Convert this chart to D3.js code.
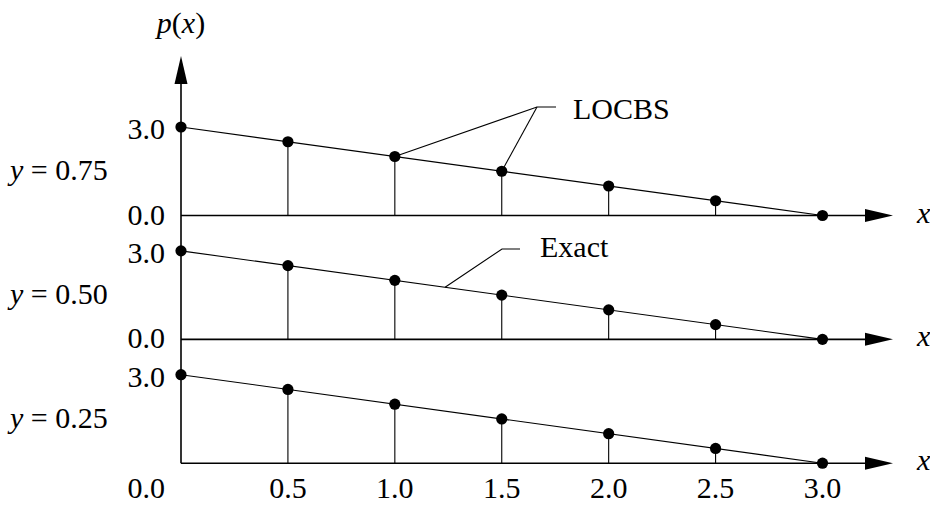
<!DOCTYPE html>
<html>
<head>
<meta charset="utf-8">
<script src="https://cdn.jsdelivr.net/npm/d3@7"></script>
<style>
  html, body { margin: 0; padding: 0; background: #fff; }
  svg { display: block; }
  text { font-family: 'Liberation Serif', 'Times New Roman', 'DejaVu Serif', serif; fill: #000; }
</style>
</head>
<body>
<svg id="chart" width="930" height="508"></svg>
<script>
// ---------- data ----------
const xValues = [0.0, 0.5, 1.0, 1.5, 2.0, 2.5, 3.0];
const panelLabels = ["0.75", "0.50", "0.25"];
const locbs075 = [3.0, 2.5, 2.0, 1.5, 1.0, 0.5, 0.0];
const locbs050 = [3.0, 2.5, 2.0, 1.5, 1.0, 0.5, 0.0];
const locbs025 = [3.0, 2.5, 2.0, 1.5, 1.0, 0.5, 0.0];
const exactX = [0.0, 3.0];
const exactP = [3.0, 0.0];
const xTickLabels = ["0.0", "0.5", "1.0", "1.5", "2.0", "2.5", "3.0"];
const yTickValues = [0.0, 3.0];
const yTickLabels = ["0.0", "3.0"];

// ---------- layout ----------
const svg = d3.select("#chart");
const FONT = 30;
const x = d3.scaleLinear().domain([0, 3]).range([181, 822.5]);
const base = d3.scalePoint().domain(panelLabels).range([215.5, 463.2]);
const yRel = d3.scaleLinear().domain([0, 3]).range([0, -88.5]);
const series = [locbs075, locbs050, locbs025];

const axisColor = "#000";
const g = svg.append("g");

// vertical axis
const yTop = 56;
g.append("line")
  .attr("x1", x(0)).attr("x2", x(0))
  .attr("y1", base(panelLabels[2])).attr("y2", yTop + 20)
  .attr("stroke", axisColor).attr("stroke-width", 1.6);
g.append("path")
  .attr("d", `M${x(0)},${yTop} L${x(0) - 6.5},${yTop + 28} L${x(0) + 6.5},${yTop + 28} Z`)
  .attr("fill", "#000");
g.append("text")
  .attr("x", x(0)).attr("y", 33)
  .attr("text-anchor", "middle")
  .attr("font-size", FONT)
  .html('<tspan font-style="italic">p</tspan>(<tspan font-style="italic">x</tspan>)');

const line = d3.line().x(d => x(d[0])).y(d => d[1]);

panelLabels.forEach((lab, i) => {
  const b = base(lab);
  const vals = series[i];
  const pg = g.append("g");

  // horizontal axis with arrow
  const xEnd = 893;
  pg.append("line")
    .attr("x1", x(0)).attr("x2", xEnd - 20)
    .attr("y1", b).attr("y2", b)
    .attr("stroke", axisColor).attr("stroke-width", 1.6);
  pg.append("path")
    .attr("d", `M${xEnd},${b} L${xEnd - 28},${b - 6.5} L${xEnd - 28},${b + 6.5} Z`)
    .attr("fill", "#000");
  pg.append("text")
    .attr("x", 917).attr("y", b + 7)
    .attr("font-size", FONT).attr("font-style", "italic")
    .text("x");

  // exact solution line
  pg.append("path")
    .attr("d", line(exactX.map((xv, k) => [xv, b + yRel(exactP[k])])))
    .attr("fill", "none").attr("stroke", "#000").attr("stroke-width", 1.1);

  // stems
  pg.selectAll("line.stem")
    .data(xValues.map((xv, k) => [xv, vals[k]]).filter(d => d[0] > 0 && d[1] > 0))
    .join("line")
    .attr("class", "stem")
    .attr("x1", d => x(d[0])).attr("x2", d => x(d[0]))
    .attr("y1", b).attr("y2", d => b + yRel(d[1]))
    .attr("stroke", "#000").attr("stroke-width", 1.1);

  // dots
  pg.selectAll("circle")
    .data(xValues.map((xv, k) => [xv, vals[k]]))
    .join("circle")
    .attr("cx", d => x(d[0])).attr("cy", d => b + yRel(d[1]))
    .attr("r", 5.6).attr("fill", "#000");

  // y tick labels (the bottom panel's 0.0 is shared with the x tick row)
  yTickValues.forEach((v, k) => {
    if (i === 2 && v === 0) return;
    pg.append("text")
      .attr("x", 165).attr("y", b + yRel(v) + (v === 0 ? 9 : 12))
      .attr("text-anchor", "end")
      .attr("font-size", FONT)
      .text(yTickLabels[k]);
  });

  // panel label
  pg.append("text")
    .attr("x", 10).attr("y", b + yRel(1.5) + 9)
    .attr("font-size", FONT)
    .html('<tspan font-style="italic">y</tspan> = ' + lab);
});

// bottom x tick labels
const bottomY = 498;
xValues.forEach((xv, k) => {
  g.append("text")
    .attr("x", xv === 0 ? 165 : x(xv))
    .attr("y", bottomY)
    .attr("text-anchor", xv === 0 ? "end" : "middle")
    .attr("font-size", FONT)
    .text(xTickLabels[k]);
});

// annotations
const b1 = base(panelLabels[0]);
const b2 = base(panelLabels[1]);
const ann = g.append("g").attr("stroke", "#000").attr("stroke-width", 1.1).attr("fill", "none");
// LOCBS leaders
const lx = 537, ly = 107;
ann.append("path").attr("d", `M${x(1.0)},${b1 + yRel(locbs075[2])} L${lx},${ly} L${lx + 19},${ly}`);
ann.append("path").attr("d", `M${x(1.5)},${b1 + yRel(locbs075[3])} L${lx},${ly}`);
g.append("text").attr("x", 573).attr("y", 119).attr("font-size", FONT).text("LOCBS");
// Exact leader
const ex = 1.235;
const exY = b2 + yRel(3 - ex);
ann.append("path").attr("d", `M${x(ex)},${exY} L502,249 L520,249`);
g.append("text").attr("x", 540).attr("y", 257).attr("font-size", FONT).text("Exact");
</script>
</body>
</html>
